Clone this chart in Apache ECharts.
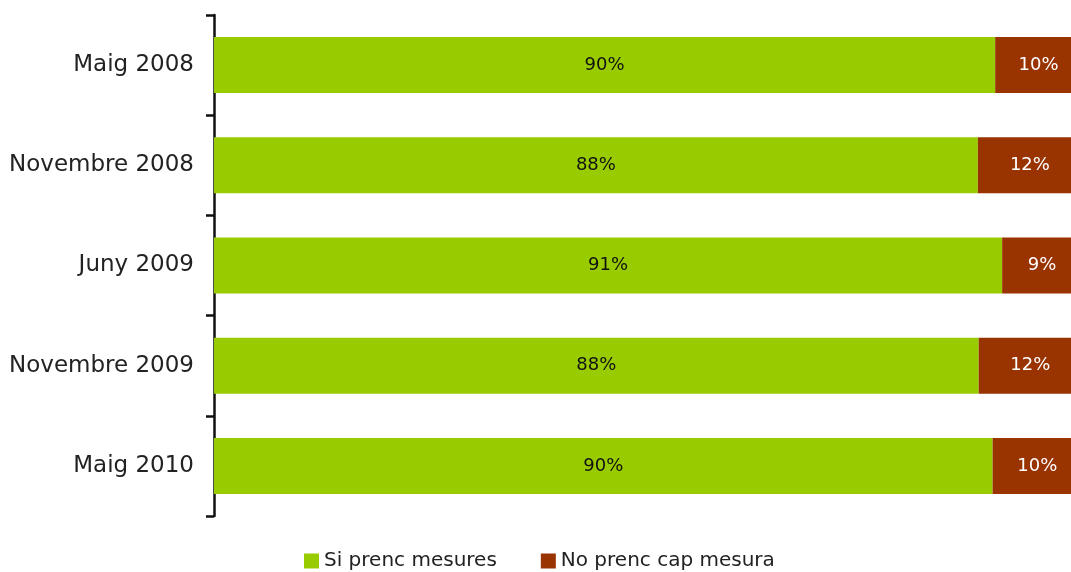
<!DOCTYPE html>
<html><head><meta charset="utf-8">
<script src="https://cdn.jsdelivr.net/npm/echarts@6/dist/echarts.min.js"></script>
<style>html,body{margin:0;padding:0;background:#fff;overflow:hidden;width:1071px;height:572px}#c{width:1082px;height:572px}</style>
</head><body><div id="c"></div>
<script>
const categories = ["Maig 2008", "Novembre 2008", "Juny 2009", "Novembre 2009", "Maig 2010"];
const siPrenc = [90.0, 88.0, 90.8, 88.1, 89.7];
const noPrenc = [10.0, 12.0, 9.2, 11.9, 10.3];
const seriesNames = ["Si prenc mesures", "No prenc cap mesura"];
const FONT = "DejaVu Sans";
const chart = echarts.init(document.getElementById('c'));
chart.setOption({
  animation: false,
  textStyle: {fontFamily: FONT},
  grid: {left: 214, right: 0, top: 15, bottom: 56, containLabel: false},
  legend: {
    bottom: -4, left: 299, itemGap: 44, itemWidth: 15, itemHeight: 15,
    icon: 'rect', textStyle: {fontSize: 20, color: '#222', fontFamily: FONT},
    data: seriesNames
  },
  xAxis: {type: 'value', min: 0, max: 100, show: false},
  yAxis: {
    type: 'category', inverse: true, data: categories,
    axisLine: {lineStyle: {color: '#111', width: 2.5}},
    axisTick: {show: true, length: 8, lineStyle: {color: '#111', width: 2.5}},
    axisLabel: {fontSize: 23, color: '#222', margin: 20, fontFamily: FONT},
    splitLine: {show: false}
  },
  series: [
    {name: seriesNames[0], type: 'bar', stack: 't', data: siPrenc, barWidth: 56,
     itemStyle: {color: '#99CC00'},
     label: {show: true, position: 'inside', color: '#111', fontSize: 18, fontFamily: FONT,
             formatter: p => Math.round(p.value) + '%'}},
    {name: seriesNames[1], type: 'bar', stack: 't', data: noPrenc, barWidth: 56,
     itemStyle: {color: '#993300'},
     label: {show: true, position: 'inside', color: '#fff', fontSize: 18, fontFamily: FONT,
             formatter: p => Math.round(p.value) + '%'}}
  ]
});
</script></body></html>
